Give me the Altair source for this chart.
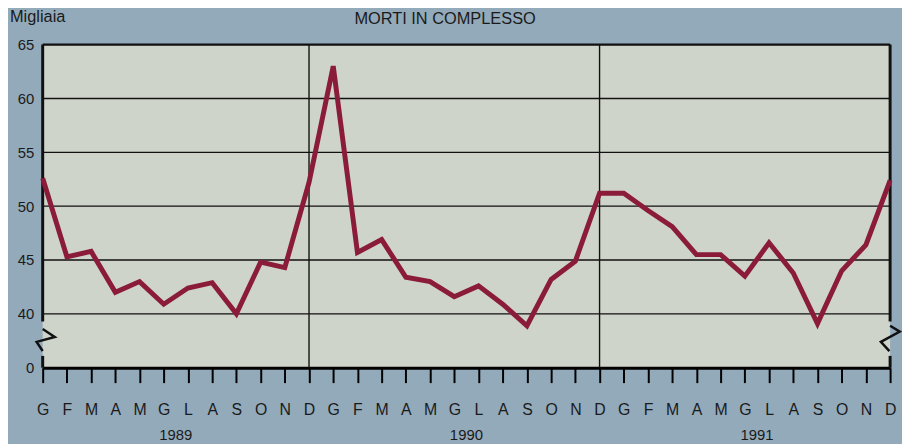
import json
import altair as alt
import pandas as pd

# ---- data ----
month_letters = ["G", "F", "M", "A", "M", "G", "L", "A", "S", "O", "N", "D"] * 3
deaths = [52.6, 45.3, 45.8, 42.0, 43.0, 40.9, 42.4, 42.9, 40.0, 44.8, 44.3, 52.2,
          63.0, 45.7, 46.9, 43.4, 43.0, 41.6, 42.6, 40.9, 38.9, 43.2, 44.9, 51.2,
          51.2, 49.6, 48.1, 45.5, 45.5, 43.5, 46.6, 43.8, 39.1, 44.0, 46.4, 52.4]
years = ["1989", "1990", "1991"]
year_pos = [5.5, 17.5, 29.5]
y_ticks = [35, 40, 45, 50, 55, 60, 65]
grid_levels = [40, 45, 50, 55, 60]
year_dividers = [11, 23]

# axis-break decorations (in data units)
left_break_x = [0, 0.5, -0.25, 0]
left_break_y = [38.6, 37.85, 37.4, 36.55]
right_break_x = [35, 35.4, 34.62, 34.97]
right_break_y = [38.9, 38.35, 37.4, 36.55]

BG = "#93aabb"
PLOT = "#cfd4cb"
LINE = "#8a1c3a"
FONT = "Liberation Sans"

df = pd.DataFrame({"i": list(range(len(deaths))), "v": deaths})

xs = alt.Scale(domain=[0, 35], nice=False, zero=False)
ys = alt.Scale(domain=[35, 65], nice=False, zero=False)

label_arr = json.dumps(month_letters)

x_axis = alt.Axis(values=list(range(36)), labelExpr=f"{label_arr}[datum.value]",
                  tickSize=15, tickWidth=2, tickColor="black", domainWidth=3,
                  domainColor="black", labelPadding=19, labelFontSize=16,
                  labelColor="#1a1a1a", labelFont=FONT, grid=False, title=None,
                  labelAngle=0, labelOverlap=False, labelBound=False, labelFlush=False)
y_axis = alt.Axis(values=y_ticks, labelExpr="datum.value == 35 ? '0' : datum.label",
                  ticks=False, domain=False, grid=False, labelPadding=9,
                  labelFontSize=15, labelColor="#1a1a1a", labelFont=FONT, title=None,
                  labelOverlap=False)


def X(field):
    return alt.X(field, type="quantitative", scale=xs, axis=x_axis)


def Y(field):
    return alt.Y(field, type="quantitative", scale=ys, axis=y_axis)


anchor = alt.Chart(df).mark_line(opacity=0).encode(x=X("i"), y=Y("v"))

grid = alt.Chart(pd.DataFrame({"g": grid_levels})).mark_rule(
    color="#111", strokeWidth=1.4).encode(
    y=Y("g"), x=alt.value(0), x2=alt.value(855))

top = alt.Chart(pd.DataFrame({"g": [65]})).mark_rule(
    color="#111", strokeWidth=2.5).encode(
    y=Y("g"), x=alt.value(0), x2=alt.value(855))

dividers = alt.Chart(pd.DataFrame({"d": year_dividers})).mark_rule(
    color="#111", strokeWidth=1.4).encode(
    x=X("d"), y=alt.value(0), y2=alt.value(326))

edges = alt.Chart(pd.DataFrame({
    "x": [0, 0, 35, 35], "y1": [65, 36.1, 65, 36.1], "y2": [39.3, 35, 39.3, 35]
})).mark_rule(color="#111", strokeWidth=3).encode(
    x=X("x"), y=Y("y1"), y2="y2:Q")

lb = pd.DataFrame({"x": left_break_x, "y": left_break_y, "o": range(4), "s": "l"})
rb = pd.DataFrame({"x": right_break_x, "y": right_break_y, "o": range(4), "s": "r"})
breaks = alt.Chart(pd.concat([lb, rb])).mark_line(
    color="#111", strokeWidth=2.5, strokeJoin="miter").encode(
    x=X("x"), y=Y("y"), order="o:Q", detail="s:N")

line = alt.Chart(df).mark_line(color=LINE, strokeWidth=5, strokeJoin="miter").encode(
    x=X("i"), y=Y("v"))

year_text = alt.Chart(pd.DataFrame({"t": years, "p": year_pos})).mark_text(
    font=FONT, fontSize=15, color="#1a1a1a", baseline="middle").encode(
    x=X("p"), y=alt.value(394), text="t:N")

unit_text = alt.Chart(pd.DataFrame({"t": ["Migliaia"]})).mark_text(
    font=FONT, fontSize=16.5, color="#1a1a1a", align="left", baseline="middle").encode(
    x=alt.value(-33), y=alt.value(-28), text="t:N")

title_text = alt.Chart(pd.DataFrame({"t": ["MORTI IN COMPLESSO"]})).mark_text(
    font=FONT, fontSize=16.5, color="#1a1a1a", align="center", baseline="middle").encode(
    x=alt.value(406), y=alt.value(-26), text="t:N")

chart = alt.layer(anchor, grid, top, dividers, edges, breaks, line,
                  year_text, unit_text, title_text).properties(
    width=855, height=326,
    autosize=alt.AutoSizeParams(type="none"),
    padding={"left": 35, "top": 35, "right": 12, "bottom": 75},
    background=BG,
).configure_view(fill=PLOT, stroke=None)

chart.save("out.html", embed_options={"renderer": "svg", "actions": False})
